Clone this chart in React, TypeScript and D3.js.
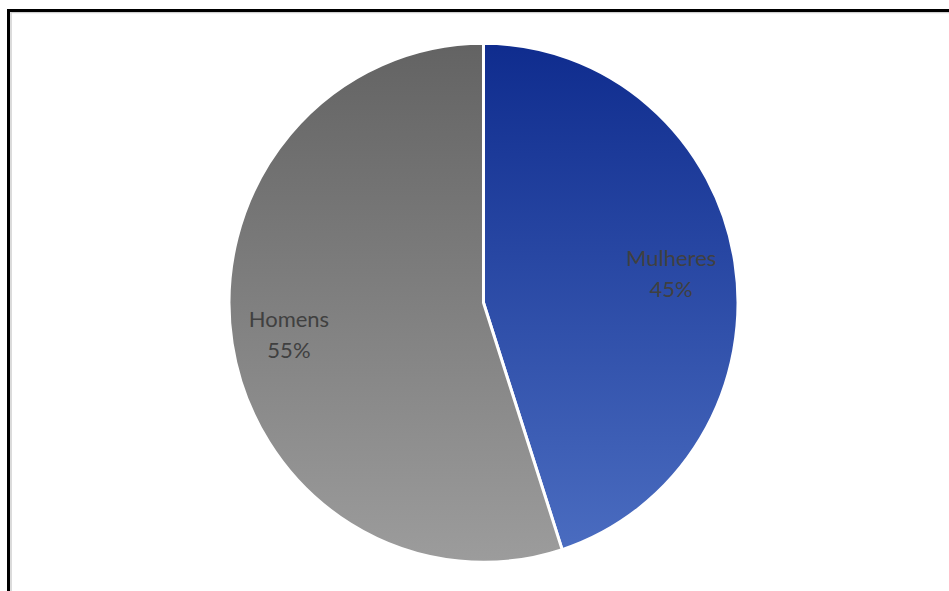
import React from "react";
import * as d3 from "d3";

const categories = ["Mulheres", "Homens"];
const values = [45, 55];
const percentLabels = ["45%", "55%"];

const W = 949;
const H = 591;
const CX = 483.5;
const CY = 302.8;
const RX = 254.5;
const RY = 259.5;
const LABEL_R = [190, 197];

const gradients = [
  { id: "gMulheres", top: "#0f2c8e", bottom: "#4a6cc0" },
  { id: "gHomens", top: "#636363", bottom: "#9c9c9c" },
];

export default function App() {
  const pie = d3
    .pie<number>()
    .sort(null)
    .value((d) => d);
  const arcs = pie(values);
  const arc = d3.arc<d3.PieArcDatum<number>>().innerRadius(0).outerRadius(RX);
  const sy = RY / RX;

  return (
    <svg
      width={W}
      height={H}
      style={{ position: "absolute", left: 0, top: 0, background: "#fff" }}
    >
      <defs>
        {gradients.map((g) => (
          <linearGradient key={g.id} id={g.id} x1="0" y1="0" x2="0" y2="1">
            <stop offset="0%" stopColor={g.top} />
            <stop offset="100%" stopColor={g.bottom} />
          </linearGradient>
        ))}
      </defs>
      <rect x={0} y={0} width={W} height={H} fill="#fff" />
      <rect
        x={11}
        y={12.5}
        width={W + 20}
        height={H + 20}
        fill="none"
        stroke="#d0d0d0"
        strokeWidth={1.5}
      />
      <rect
        x={8.5}
        y={10.5}
        width={W + 20}
        height={H + 20}
        fill="none"
        stroke="#000"
        strokeWidth={3}
      />
      <g transform={`translate(${CX},${CY}) scale(1,${sy})`}>
        {arcs.map((a, i) => (
          <path
            key={categories[i]}
            d={arc(a) || ""}
            fill={`url(#${gradients[i].id})`}
            stroke="#fff"
            strokeWidth={3}
            strokeLinejoin="round"
          />
        ))}
      </g>
      <g transform={`translate(${CX},${CY})`}>
        {arcs.map((a, i) => {
          const la = d3
            .arc<d3.PieArcDatum<number>>()
            .innerRadius(LABEL_R[i])
            .outerRadius(LABEL_R[i]);
          const [x, y] = la.centroid(a);
          return (
            <text
              key={"l" + i}
              textAnchor="middle"
              fill="#404040"
              fontFamily="Lato, 'Open Sans', sans-serif"
              fontSize={22}
            >
              <tspan x={x} y={y - 7}>
                {categories[i]}
              </tspan>
              <tspan x={x} y={y + 24}>
                {percentLabels[i]}
              </tspan>
            </text>
          );
        })}
      </g>
    </svg>
  );
}
